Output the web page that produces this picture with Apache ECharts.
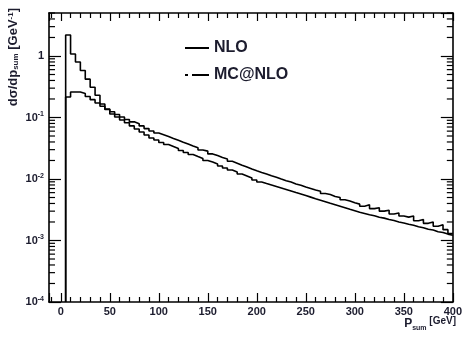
<!DOCTYPE html>
<html>
<head>
<meta charset="utf-8">
<script src="https://cdn.jsdelivr.net/npm/echarts@6/dist/echarts.min.js"></script>
<style>
  html, body { margin: 0; background: #fff; }
  #chart { width: 465px; height: 338px; }
</style>
</head>
<body>
<div id="chart"></div>
<script>
// histogram bins: 5 GeV wide, first bin starts at 5 GeV
const binStart = 5;
const binWidth = 5;
const binEnd = 400;

const nlo = [
  2.2, 1.08, 0.80, 0.58, 0.42, 0.31, 0.23, 0.166, 0.137, 0.114,
  0.102, 0.091, 0.082, 0.073, 0.065, 0.058, 0.052, 0.0465, 0.043, 0.0393,
  0.0364, 0.0338, 0.0314, 0.0291, 0.0270, 0.0250, 0.0232, 0.0216, 0.0200, 0.0189,
  0.01755, 0.01628, 0.0151, 0.0140, 0.0130, 0.01206, 0.0112, 0.0104, 0.00963, 0.00893,
  0.00844, 0.00798, 0.00754, 0.00712, 0.00673, 0.00636, 0.00601, 0.00568, 0.00537, 0.00507,
  0.00479, 0.00453, 0.00428, 0.00404, 0.00382, 0.00361, 0.00341, 0.00322, 0.00305, 0.00288,
  0.00275, 0.00262, 0.00252, 0.00239, 0.00231, 0.00219, 0.00211, 0.00200, 0.00193, 0.00184,
  0.00177, 0.00167, 0.00161, 0.00152, 0.00148, 0.00139, 0.00135, 0.00127, 0.00122
];

const mcnlo = [
  0.215, 0.26, 0.26, 0.245, 0.22, 0.195, 0.172, 0.152, 0.135, 0.124,
  0.112, 0.102, 0.093, 0.085, 0.079, 0.073, 0.066, 0.0603, 0.0558, 0.0523,
  0.0490, 0.0457, 0.0427, 0.0397, 0.0371, 0.0345, 0.0322, 0.0296, 0.0284, 0.0256,
  0.0240, 0.0223, 0.0212, 0.0194, 0.0181, 0.0168, 0.0157, 0.0146, 0.0136, 0.0128,
  0.0121, 0.0113, 0.0107, 0.0100, 0.0094, 0.0089, 0.0083, 0.0079, 0.0074, 0.0070,
  0.0066, 0.0063, 0.0058, 0.0056, 0.0052, 0.0050, 0.0046, 0.0044, 0.0041, 0.0039,
  0.0036, 0.0038, 0.0033, 0.0034, 0.0030, 0.0031, 0.0027, 0.0028, 0.0025, 0.0024,
  0.0025, 0.0021, 0.0022, 0.0019, 0.0020, 0.0017, 0.0018, 0.0015, 0.0013
];

const yDecades = [1e-4, 1e-3, 1e-2, 1e-1, 1];
const yMinorFactors = [2, 3, 4, 5, 6, 7, 8, 9];
const xMin = -12, xMax = 400, yMin = 1e-4, yMax = 5;

const font = "'Liberation Sans', Arial, sans-serif";
const ink = '#1c1c2e';
const tickStyle = { color: '#000', width: 1.2 };

const yMinorTicks = [];
yDecades.forEach((d) => {
  yMinorFactors.forEach((f) => {
    if (d * f <= yMax) yMinorTicks.push(d * f);
  });
});

function histPoints(values) {
  // start at the floor, step up into the first bin, close the last bin at binEnd
  const pts = [[binStart, yMin]];
  values.forEach((v, i) => pts.push([binStart + i * binWidth, v]));
  pts.push([binEnd, values[values.length - 1]]);
  return pts;
}

function powLabel(v) {
  const e = Math.round(Math.log10(v));
  if (e === 0) return '1';
  return '10{sup|' + e + '}';
}

// log minor ticks (2..9 x decade) on the left and right edges
function yMinorSeries(edge, len) {
  return {
    type: 'custom',
    clip: false,
    data: yMinorTicks.map((v) => [edge, v, len]),
    renderItem(params, api) {
      const p = api.coord([api.value(0), api.value(1)]);
      return {
        type: 'line',
        shape: { x1: p[0], y1: p[1], x2: p[0] + api.value(2), y2: p[1] },
        style: { stroke: '#000', lineWidth: 1.2 },
      };
    },
  };
}

function xFrame(position, withLabels, len) {
  return {
    type: 'value', position, min: xMin, max: xMax, splitNumber: 8,
    axisLine: { show: true, onZero: false, lineStyle: { color: '#000', width: 1.6 } },
    splitLine: { show: false },
    axisTick: { show: true, inside: true, length: len, lineStyle: tickStyle },
    minorTick: { show: true, splitNumber: 5, length: 5, lineStyle: tickStyle },
    axisLabel: withLabels
      ? { show: true, showMinLabel: false, margin: 4, color: ink, fontSize: 11,
          fontFamily: font, fontWeight: 'bold' }
      : { show: false },
  };
}

function yFrame(position, withLabels) {
  return {
    type: 'log', logBase: 10, position, min: yMin, max: yMax,
    axisLine: { show: true, onZero: false, lineStyle: { color: '#000', width: 1.6 } },
    splitLine: { show: false },
    axisTick: { show: true, inside: true, length: 12, lineStyle: tickStyle },
    axisLabel: withLabels
      ? { show: true, showMaxLabel: false, margin: 5, color: ink, fontSize: 11,
          fontFamily: font, fontWeight: 'bold', formatter: powLabel,
          rich: { sup: { fontSize: 7, verticalAlign: 'top', color: ink,
            fontFamily: font, fontWeight: 'bold', padding: [0, 0, 6, 0] } } }
      : { show: false },
  };
}

const chart = echarts.init(document.getElementById('chart'));

chart.setOption({
  animation: false,
  backgroundColor: '#fff',
  grid: { left: 49, right: 7, top: 13, bottom: 36 },
  xAxis: [xFrame('bottom', true, 9), xFrame('top', false, 8)],
  yAxis: [yFrame('left', true), yFrame('right', false)],
  legend: {
    orient: 'vertical',
    left: 179, top: 35,
    itemWidth: 24, itemHeight: 14, itemGap: 11,
    textStyle: { fontSize: 16, fontWeight: 'bold', color: ink, fontFamily: font },
    data: [
      { name: 'NLO' },
      { name: 'MC@NLO', lineStyle: { type: [3, 4, 15, 0] } },
    ],
  },
  series: [
    {
      name: 'NLO', type: 'line', step: 'end', showSymbol: false, symbol: 'none',
      lineStyle: { color: '#000', width: 1.6 }, itemStyle: { color: 'rgba(0,0,0,0)' },
      data: histPoints(nlo),
    },
    {
      name: 'MC@NLO', type: 'line', step: 'end', showSymbol: false, symbol: 'none',
      lineStyle: { color: '#000', width: 1.6 }, itemStyle: { color: 'rgba(0,0,0,0)' },
      data: histPoints(mcnlo),
    },
    yMinorSeries(xMin, 6),
    yMinorSeries(xMax, -6),
  ],
  graphic: [
    {
      type: 'text', x: 13, y: 8, rotation: Math.PI / 2,
      style: {
        text: 'dσ/dp{sub|sum} [GeV{sup|-1}]',
        align: 'right', verticalAlign: 'middle',
        fill: ink, fontSize: 13, fontFamily: font, fontWeight: 'bold',
        rich: {
          sub: { fontSize: 8, verticalAlign: 'bottom', fill: ink, fontFamily: font, fontWeight: 'bold' },
          sup: { fontSize: 8, verticalAlign: 'top', fill: ink, fontFamily: font, fontWeight: 'bold' },
        },
      },
    },
    {
      type: 'text', x: 456, y: 324,
      style: {
        text: 'P{sub|sum}{sup| [GeV]}',
        align: 'right', verticalAlign: 'middle',
        fill: ink, fontSize: 12, fontFamily: font, fontWeight: 'bold',
        rich: {
          sub: { fontSize: 7, verticalAlign: 'bottom', fill: ink, fontFamily: font, fontWeight: 'bold', padding: [8, 0, 0, 0] },
          sup: { fontSize: 10, verticalAlign: 'top', fill: ink, fontFamily: font, fontWeight: 'bold', padding: [0, 0, 6, 0] },
        },
      },
    },
  ],
});
</script>
</body>
</html>
